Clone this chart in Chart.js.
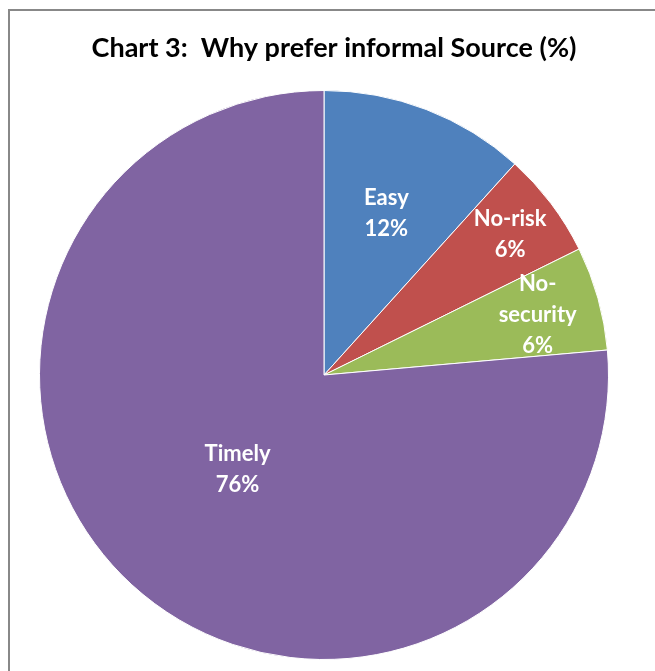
<!DOCTYPE html>
<html>
<head>
<meta charset="utf-8">
<script src="https://cdn.jsdelivr.net/npm/chart.js@4/dist/chart.umd.min.js"></script>
<style>
  html, body { margin: 0; padding: 0; background: #fff; }
  #wrap { position: relative; width: 655px; height: 671px; }
</style>
</head>
<body>
<div id="wrap"><canvas id="chart" width="655" height="671"></canvas></div>
<script>
const chartTitle = 'Chart 3:  Why prefer informal Source (%)';
const categories = ['Easy', 'No-risk', 'No-security', 'Timely'];
const labelLines = [['Easy'], ['No-risk'], ['No-', 'security'], ['Timely']];
const shares = [11.7, 6.0, 5.9, 76.4];
const sliceColors = ['#4f81bd', '#c0504d', '#9bbb59', '#8064a2'];

const fontFamily = 'Lato, "Open Sans", "Liberation Sans", sans-serif';

// frame + title drawn by hand so they sit where the original has them
const framePlugin = {
  id: 'frame',
  beforeDraw(chart) {
    const ctx = chart.ctx;
    ctx.save();
    ctx.fillStyle = '#ffffff';
    ctx.fillRect(0, 0, chart.width, chart.height);
    ctx.strokeStyle = '#888888';
    ctx.lineWidth = 2;
    ctx.strokeRect(9, 10, 700, 700);
    ctx.fillStyle = '#000000';
    ctx.font = 'bold 27px ' + fontFamily;
    ctx.textAlign = 'center';
    ctx.textBaseline = 'middle';
    ctx.fillText(chartTitle, 334, 48);
    ctx.restore();
  },
};

// how far out along each slice the label sits (fraction of radius)
const labelRadius = [0.61, 0.82, 0.78, 0.45];

const sliceLabels = {
  id: 'sliceLabels',
  afterDatasetsDraw(chart) {
    const ctx = chart.ctx;
    const meta = chart.getDatasetMeta(0);
    const total = shares.reduce((a, b) => a + b, 0);
    ctx.save();
    ctx.fillStyle = '#ffffff';
    ctx.font = 'bold 22px ' + fontFamily;
    ctx.textAlign = 'center';
    ctx.textBaseline = 'middle';
    meta.data.forEach((arc, i) => {
      const mid = (arc.startAngle + arc.endAngle) / 2;
      const r = arc.outerRadius * labelRadius[i];
      const x = arc.x + Math.cos(mid) * r;
      const y = arc.y + Math.sin(mid) * r;
      const lines = labelLines[i].concat(Math.round((shares[i] / total) * 100) + '%');
      const lh = 31;
      const top = y - ((lines.length - 1) * lh) / 2;
      lines.forEach((t, k) => ctx.fillText(t, x, top + k * lh));
    });
    ctx.restore();
  },
};

new Chart(document.getElementById('chart'), {
  type: 'pie',
  data: {
    labels: categories,
    datasets: [
      {
        data: shares,
        backgroundColor: sliceColors,
        borderColor: '#ffffff',
        borderWidth: 1,
      },
    ],
  },
  options: {
    responsive: false,
    animation: false,
    layout: { padding: { left: 39, right: 46, top: 90, bottom: 11 } },
    plugins: {
      legend: { display: false },
      title: { display: false },
      tooltip: { enabled: false },
    },
  },
  plugins: [framePlugin, sliceLabels],
});
</script>
</body>
</html>
